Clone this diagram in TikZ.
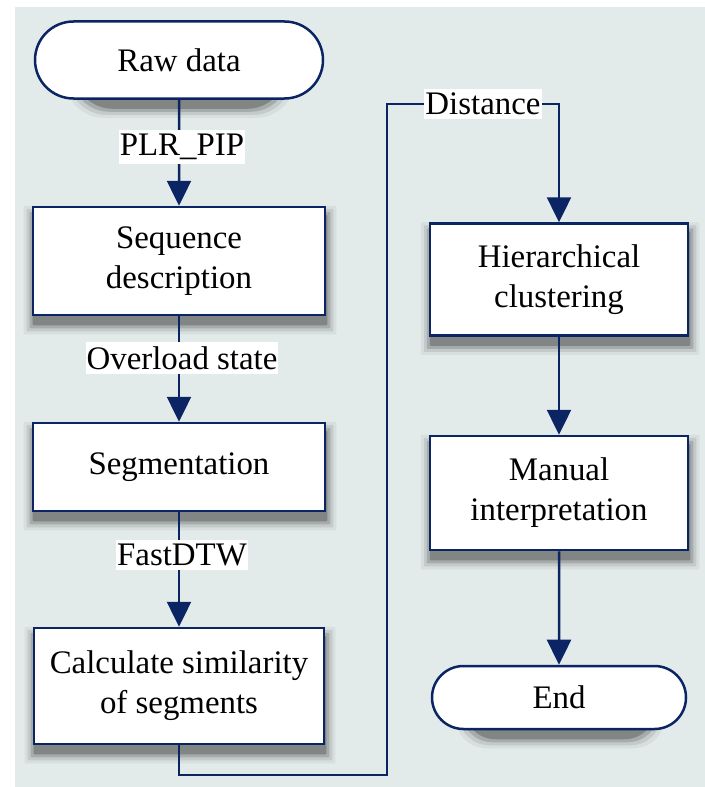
\documentclass[tikz,border=0pt]{standalone}
\usepackage{fontspec}
\setmainfont{Liberation Serif}
\usetikzlibrary{shapes.misc,arrows.meta}
\definecolor{navy}{RGB}{10,36,100}
\definecolor{bgc}{RGB}{227,235,234}
\pgfdeclarelayer{shadowlayer}
\pgfsetlayers{shadowlayer,main}
\newcommand{\shbox}[2]{%
  \begin{pgfonlayer}{shadowlayer}
  \foreach \s/\o in {0/0.22,3/0.15,6/0.09,9/0.05}{
    \fill[black,opacity=\o,rounded corners=#2]
      ([xshift=-\s bp+1bp,yshift=-\s bp-9bp]#1.south west) rectangle
      ([xshift=\s bp+1bp,yshift=\s bp-9bp]#1.north east);
  }
  \end{pgfonlayer}}
\tikzset{
  procbox/.style={draw=navy,line width=2.5bp,fill=white,
    minimum width=292bp,align=center,inner sep=2bp,font=\fontsize{33}{40}\selectfont},
  termbox/.style={rounded rectangle,draw=navy,line width=2.5bp,fill=white,
    align=center,inner sep=2bp,font=\fontsize{33}{40}\selectfont},
  lbl/.style={fill=white,inner xsep=1bp,inner ysep=4bp,font=\fontsize{33}{40}\selectfont},
  conn/.style={draw=navy,line width=2.5bp},
  arr/.style={conn,-{Triangle[width=24bp,length=25bp]}}
}
\begin{document}
\begin{tikzpicture}[x=1bp,y=-1bp]
\begin{pgfonlayer}{shadowlayer}
\useasboundingbox (0,0) rectangle (705,787);
\fill[bgc] (15,7) rectangle (705,787);
\end{pgfonlayer}
\node[termbox,minimum width=292bp,minimum height=77bp] (raw) at (179,60) {Raw data};
\node[procbox,minimum height=108bp] (seq) at (179,261) {Sequence\\description};
\node[procbox,minimum height=88bp] (seg) at (179,467) {Segmentation};
\node[procbox,minimum height=116bp,minimum width=290bp] (calc) at (179,686) {Calculate similarity\\of segments};
\node[procbox,minimum width=258bp,minimum height=112bp] (hier) at (559,279.5) {Hierarchical\\clustering};
\node[procbox,minimum width=258bp,minimum height=114bp] (man) at (559,493) {Manual\\interpretation};
\node[termbox,minimum width=258bp,minimum height=63bp] (end) at (559,697.5) {End};
\shbox{raw}{38bp}
\shbox{seq}{1bp}
\shbox{seg}{1bp}
\shbox{calc}{1bp}
\shbox{hier}{1bp}
\shbox{man}{1bp}
\shbox{end}{31bp}
\coordinate (c1) at (179,775);
\coordinate (c2) at (387,775);
\coordinate (c3) at (387,104);
\coordinate (c4) at (559,104);
\draw[arr] (raw) -- (seq);
\draw[arr] (seq) -- (seg);
\draw[arr] (seg) -- (calc);
\draw[arr] (calc.south) -- (c1) -- (c2) -- (c3) -- (c4) -- (hier.north);
\draw[arr] (hier) -- (man);
\draw[arr] (man) -- (end);
\node[lbl] (l1) at (182,147) {PLR\_PIP};
\node[lbl] (l2) at (182,358) {Overload state};
\node[lbl] (l3) at (182,555) {FastDTW};
\node[lbl] (l4) at (483,104) {Distance};
\end{tikzpicture}
\end{document}
